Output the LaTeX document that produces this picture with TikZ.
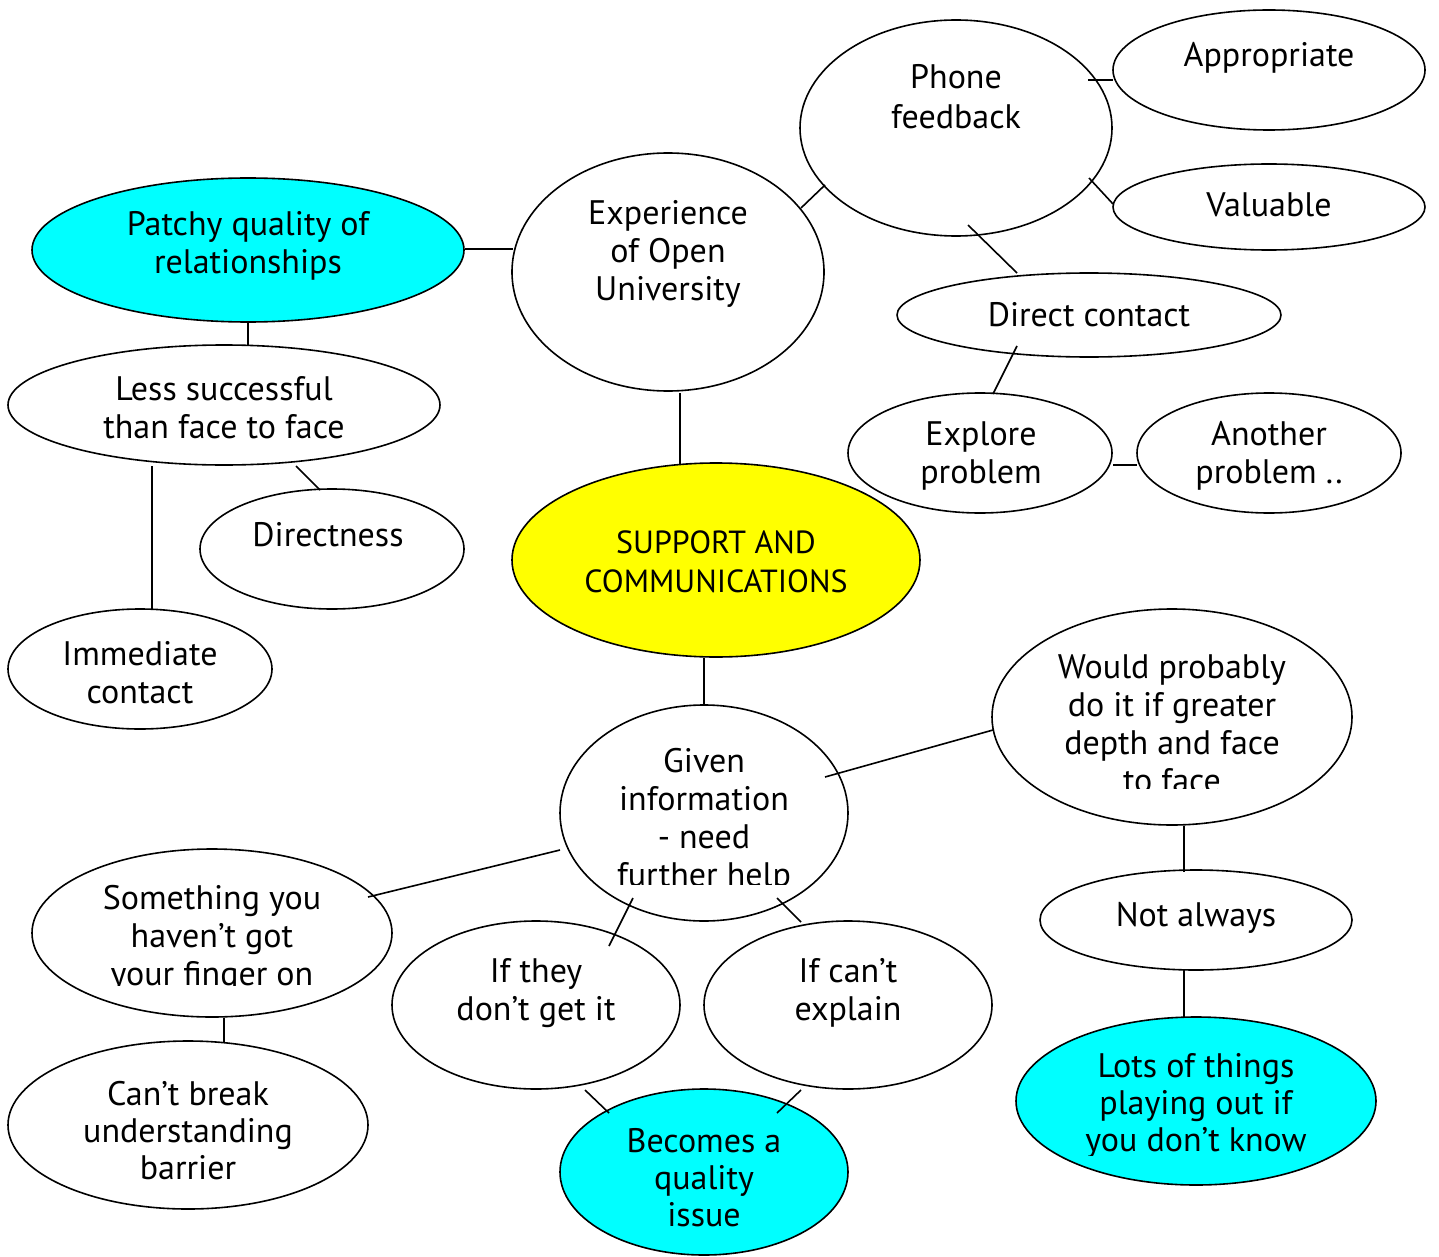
\documentclass[tikz,border=0pt]{standalone}
\usepackage{fontspec}
\setmainfont{PT Sans}
\usetikzlibrary{shapes.geometric}
\definecolor{aqua}{HTML}{00FFFF}
\definecolor{yel}{HTML}{FFFF00}
\tikzset{
  oval/.style={ellipse, draw=black, line width=1.6pt, fill=white, inner sep=0pt},
  txt/.style={align=center, inner sep=0pt, font=\fontsize{34}{38}\selectfont},
  link/.style={line width=1.6pt, draw=black},
}
\newcommand{\ov}[5]{\node[oval, minimum width=#3pt, minimum height=#4pt, #5] (#1) at (#2) {};}
\begin{document}
\begin{tikzpicture}[x=1pt, y=-1pt]
\useasboundingbox (0,0) rectangle (1439,1257);
% ellipses
\ov{phone}{956,128}{312}{216}{}
\ov{approp}{1269,70}{312}{120}{}
\ov{valu}{1269,207}{312}{86}{}
\ov{exper}{668,272}{312}{238}{}
\ov{patchy}{248,250}{432}{144}{fill=aqua}
\ov{direct}{1089,315}{384}{84}{}
\ov{explore}{980,453}{264}{120}{}
\ov{another}{1269,453}{264}{120}{}
\ov{less}{224,405}{432}{120}{}
\ov{dirness}{332,549}{264}{120}{}
\ov{support}{716,560}{408}{194}{fill=yel}
\ov{immed}{140,669}{264}{120}{}
\ov{would}{1172,717}{360}{216}{}
\ov{given}{704,813}{288}{216}{}
\ov{something}{212,933}{360}{168}{}
\ov{notalw}{1196,920}{312}{100}{}
\ov{ifthey}{536,1005}{288}{168}{}
\ov{ifcant}{848,1005}{288}{168}{}
\ov{cantbreak}{188,1125}{360}{168}{}
\ov{lots}{1196,1101}{360}{168}{fill=aqua}
\ov{becomes}{704,1172}{288}{166}{fill=aqua}
% connectors
\draw[link] ([shift={(217,-1)}]patchy.center) -- ([shift={(-155,-23)}]exper.center);
\draw[link] ([shift={(133,-64)}]exper.center) -- ([shift={(-131,57)}]phone.center);
\draw[link] ([shift={(132,-48)}]phone.center) -- ([shift={(-156,10)}]approp.center);
\draw[link] ([shift={(133,50)}]phone.center) -- ([shift={(-156,-3)}]valu.center);
\draw[link] ([shift={(12,97)}]phone.center) -- ([shift={(-72,-42)}]direct.center);
\draw[link] ([shift={(-72,31)}]direct.center) -- ([shift={(13,-59)}]explore.center);
\draw[link] ([shift={(133,12)}]explore.center) -- ([shift={(-132,12)}]another.center);
\draw[link] ([shift={(0,72)}]patchy.center) -- ([shift={(24,-59)}]less.center);
\draw[link] ([shift={(72,61)}]less.center) -- ([shift={(-12,-59)}]dirness.center);
\draw[link] ([shift={(-72,61)}]less.center) -- ([shift={(12,-60)}]immed.center);
\draw[link] ([shift={(12,121)}]exper.center) -- ([shift={(-36,-96)}]support.center);
\draw[link] ([shift={(-12,98)}]support.center) -- ([shift={(0,-108)}]given.center);
\draw[link] ([shift={(121,-36)}]given.center) -- ([shift={(-179,13)}]would.center);
\draw[link] ([shift={(-144,37)}]given.center) -- ([shift={(156,-36)}]something.center);
\draw[link] ([shift={(-71,85)}]given.center) -- ([shift={(73,-59)}]ifthey.center);
\draw[link] ([shift={(73,85)}]given.center) -- ([shift={(-47,-83)}]ifcant.center);
\draw[link] ([shift={(12,109)}]would.center) -- ([shift={(-12,-48)}]notalw.center);
\draw[link] ([shift={(-12,50)}]notalw.center) -- ([shift={(-12,-83)}]lots.center);
\draw[link] ([shift={(12,85)}]something.center) -- ([shift={(36,-83)}]cantbreak.center);
\draw[link] ([shift={(49,85)}]ifthey.center) -- ([shift={(-95,-59)}]becomes.center);
\draw[link] ([shift={(-47,85)}]ifcant.center) -- ([shift={(73,-59)}]becomes.center);
% texts
\node[txt, font=\fontsize{34}{40}\selectfont] (phoneT) at (956,97) {Phone\\feedback};
\node[txt] (appropT) at (1269,58) {Appropriate};
\node[txt] (valuT) at (1269,205) {Valuable};
\node[txt] (experT) at (668,254) {Experience\\of Open\\University};
\node[txt] (patchyT) at (248,246) {Patchy quality of\\relationships};
\node[txt] (directT) at (1089,315) {Direct contact};
\node[txt] (exploreT) at (981,456) {Explore\\problem};
\node[txt] (anotherT) at (1269,456) {Another\\problem ..};
\node[txt] (lessT) at (224,408) {Less successful\\than face to face};
\node[txt] (dirnessT) at (328,535) {Directness};
\node[txt, font=\fontsize{32}{39}\selectfont] (supportT) at (716,562) {SUPPORT AND\\COMMUNICATIONS};
\node[txt] (immedT) at (140,673) {Immediate\\contact};
\begin{scope}
\clip (980,630) rectangle (1360,788);
\node[txt] (wouldT) at (1172,724) {Would probably\\do it if greater\\depth and face\\to face};
\end{scope}
\begin{scope}
\clip (560,730) rectangle (850,884);
\node[txt] (givenT) at (704,821) {Given\\information\\- need\\further help};
\end{scope}
\begin{scope}
\clip (30,870) rectangle (400,985);
\node[txt] (somethingT) at (212,939) {Something you\\haven’t got\\your finger on};
\end{scope}
\node[txt] (notalwT) at (1196,918) {Not always};
\node[txt] (iftheyT) at (536,993) {If they\\don’t get it};
\node[txt] (ifcantT) at (848,993) {If can’t\\explain};
\node[txt, font=\fontsize{34}{37}\selectfont] (cantbreakT) at (188,1131) {Can’t break\\understanding\\barrier};
\begin{scope}
\clip (1010,1040) rectangle (1380,1155);
\node[txt, font=\fontsize{34}{37}\selectfont] (lotsT) at (1196,1106) {Lots of things\\playing out if\\you don’t know};
\end{scope}
\node[txt, font=\fontsize{34}{37}\selectfont] (becomesT) at (704,1178) {Becomes a\\quality\\issue};
\end{tikzpicture}
\end{document}
